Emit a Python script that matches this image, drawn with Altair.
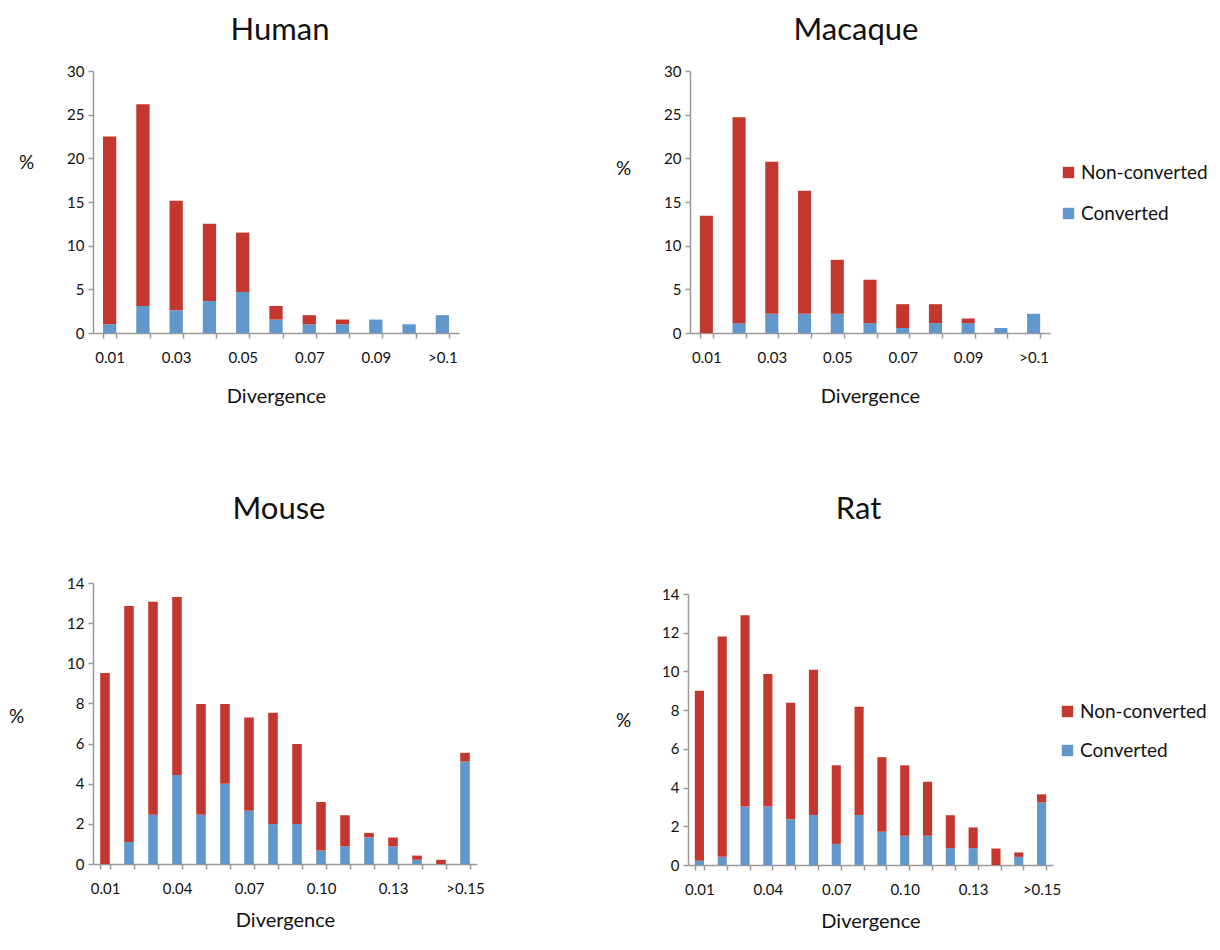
import altair as alt
import pandas as pd

RED = "#C4372F"
BLUE = "#6297CB"
FONT = "Lato"

# ---------------- data ----------------
cats_top = ["0.01", "0.02", "0.03", "0.04", "0.05", "0.06", "0.07", "0.08", "0.09", "0.10", ">0.1"]
labels_top = ["0.01", "0.03", "0.05", "0.07", "0.09", ">0.1"]

cats_bottom = ["0.01", "0.02", "0.03", "0.04", "0.05", "0.06", "0.07", "0.08",
               "0.09", "0.10", "0.11", "0.12", "0.13", "0.14", "0.15", ">0.15"]
labels_bottom = ["0.01", "0.04", "0.07", "0.10", "0.13", ">0.15"]

human_conv = [1.0, 3.1, 2.6, 3.66, 4.7, 1.54, 1.0, 1.0, 1.54, 1.0, 2.04]
human_nonconv = [21.5, 23.1, 12.55, 8.84, 6.8, 1.56, 1.04, 0.54, 0, 0, 0]

macaque_conv = [0, 1.13, 2.19, 2.2, 2.2, 1.13, 0.57, 1.13, 1.13, 0.57, 2.2]
macaque_nonconv = [13.43, 23.57, 17.41, 14.1, 6.18, 4.97, 2.73, 2.17, 0.53, 0, 0]

mouse_conv = [0, 1.09, 2.45, 4.44, 2.45, 4.0, 2.65, 1.99, 1.99, 0.67, 0.88, 1.32, 0.88, 0.21, 0, 5.1]
mouse_nonconv = [9.52, 11.77, 10.62, 8.86, 5.52, 3.97, 4.65, 5.54, 3.99, 2.42, 1.55, 0.23, 0.44, 0.21, 0.21, 0.44]

rat_conv = [0.22, 0.42, 3.02, 3.02, 2.36, 2.58, 1.09, 2.58, 1.72, 1.51, 1.51, 0.87, 0.87, 0, 0.42, 3.23]
rat_nonconv = [8.78, 11.38, 9.88, 6.85, 6.02, 7.51, 4.06, 5.59, 3.85, 3.64, 2.79, 1.70, 1.07, 0.85, 0.23, 0.42]

types = ["Non-converted", "Converted"]


def make_df(cats, conv, nonconv):
    rows = []
    for c, cv, nv in zip(cats, conv, nonconv):
        rows.append({"cat": c, "type": "Converted", "value": cv, "ord": 0})
        rows.append({"cat": c, "type": "Non-converted", "value": nv, "ord": 1})
    return pd.DataFrame(rows)


def panel(title, cats, shown, conv, nonconv, ymax, ystep, width, height,
          pct_x, pct_y, title_offset, title_dx, xtitle_pad, legend_xy=None, row_pad=21):
    df = make_df(cats, conv, nonconv)
    shown_js = "[" + ",".join("'" + s + "'" for s in shown) + "]"
    if legend_xy is None:
        legend = None
    else:
        legend = alt.Legend(title=None, orient="none", legendX=legend_xy[0], legendY=legend_xy[1],
                            symbolType="square", symbolSize=130, symbolStrokeWidth=0,
                            labelFont=FONT, labelFontSize=19, labelColor="#111",
                            labelOffset=3, rowPadding=row_pad)
    return alt.Chart(df, title=alt.Title(title, font=FONT, fontSize=31, fontWeight="normal",
                                         color="#111", anchor="middle", offset=title_offset,
                                         dx=title_dx)).mark_bar().encode(
        x=alt.X("cat:N", sort=cats,
                scale=alt.Scale(paddingInner=0.6, paddingOuter=0.3),
                axis=alt.Axis(title="Divergence", labelAngle=0, tickBand="extent",
                              labelExpr="indexof(" + shown_js + ", datum.value) >= 0 ? datum.value : ''",
                              labelFont=FONT, labelFontSize=15, labelColor="#111",
                              labelPadding=12, titleFont=FONT, titleFontSize=20,
                              titleFontWeight="normal", titleColor="#111", titlePadding=xtitle_pad,
                              domainColor="#9a9a9a", domainWidth=1.5, tickColor="#9a9a9a",
                              tickWidth=1.5, tickSize=5, grid=False)),
        y=alt.Y("value:Q", stack="zero",
                scale=alt.Scale(domain=[0, ymax], nice=False),
                axis=alt.Axis(title="%", values=list(range(0, ymax + 1, ystep)),
                              titleAngle=0, titleAlign="center", titleBaseline="middle",
                              titleX=pct_x, titleY=pct_y, titleFont=FONT, titleFontSize=19,
                              titleFontWeight="normal", titleColor="#111",
                              labelFont=FONT, labelFontSize=15, labelColor="#111", labelPadding=4,
                              domainColor="#9a9a9a", domainWidth=1.5, tickColor="#9a9a9a",
                              tickWidth=1.5, tickSize=5, grid=False)),
        color=alt.Color("type:N", scale=alt.Scale(domain=types, range=[RED, BLUE]), legend=legend),
        order=alt.Order("ord:Q"),
    ).properties(width=width, height=height)


human = panel("Human", cats_top, labels_top, human_conv, human_nonconv, 30, 5, 366, 262,
              -67, 91, 17, 4, 21)
macaque = panel("Macaque", cats_top, labels_top, macaque_conv, macaque_nonconv, 30, 5, 360, 262,
                -67, 97, 17, -14, 21, legend_xy=(369, 92), row_pad=21)
mouse = panel("Mouse", cats_bottom, labels_bottom, mouse_conv, mouse_nonconv, 14, 2, 384, 281,
              -77, 133, 50, -6, 14)
rat = panel("Rat", cats_bottom, labels_bottom, rat_conv, rat_nonconv, 14, 2, 365, 271,
            -65, 126, 61, -12, 14, legend_xy=(370, 108), row_pad=19)

chart = alt.concat(human, macaque, mouse, rat, columns=2, align="none",
                   spacing={"column": 130, "row": 88}).resolve_scale(color="independent").properties(
    padding={"left": 0, "top": 7, "right": 0, "bottom": 0}
).configure_view(stroke=None)

chart.save("out.html", embed_options={"renderer": "svg", "actions": False})
